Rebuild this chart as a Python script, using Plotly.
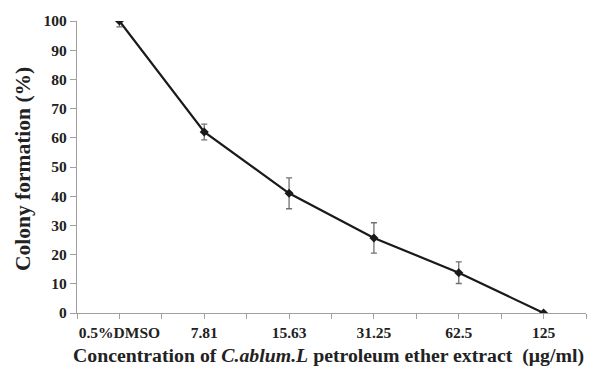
import plotly.graph_objects as go

categories = ["0.5%DMSO", "7.81", "15.63", "31.25", "62.5", "125"]
colony = [100, 62, 41, 25.7, 13.8, 0]
errors = [2, 2.7, 5.3, 5.2, 3.7, 0]
y_ticks = list(range(0, 101, 10))

font = "Liberation Serif, Times New Roman, serif"

fig = go.Figure()
fig.add_trace(go.Scatter(
    x=list(range(len(categories))), y=colony,
    mode="lines+markers",
    line=dict(color="#1a1a1a", width=2.2),
    marker=dict(symbol="diamond", size=7, color="#1a1a1a"),
    error_y=dict(type="data", array=errors, visible=True,
                 color="#707070", thickness=1.3, width=3),
    cliponaxis=True,
    showlegend=False,
))

fig.update_layout(
    width=590, height=360,
    margin=dict(l=69, r=12, t=13, b=55, autoexpand=False),
    paper_bgcolor="white", plot_bgcolor="white",
    font=dict(family=font, color="#222222"),
    xaxis=dict(
        range=[-0.5, len(categories) - 0.5],
        tickmode="array",
        tickvals=[i * 0.5 - 0.5 for i in range(2 * len(categories) + 1)],
        ticktext=["" if i % 2 == 0 else categories[i // 2] for i in range(2 * len(categories) + 1)],
        ticks="outside", ticklen=5, tickcolor="#a0a0a0", tickwidth=1,
        showline=True, linecolor="#a0a0a0", linewidth=1.2,
        showgrid=False, zeroline=False, automargin=False,
        tickfont=dict(size=15.5, family=font, color="#222222", weight="bold"),
    ),
    yaxis=dict(
        range=[0, 100],
        tickvals=y_ticks,
        ticks="outside", ticklen=6, tickcolor="#a0a0a0", tickwidth=1,
        showline=True, linecolor="#a0a0a0", linewidth=1.2,
        showgrid=False, zeroline=False, automargin=False,
        tickfont=dict(size=15.5, family=font, color="#222222", weight="bold"),
    ),
    annotations=[
        dict(text="<b>Concentration of <i>C.ablum.L</i> petroleum ether extract  (μg/ml)</b>",
             xref="paper", yref="paper", x=(328 - 77) / 509, y=(313 - 355) / 292,
             xanchor="center", yanchor="middle", showarrow=False,
             font=dict(size=19.8, family=font, color="#222222")),
        dict(text="<b>Colony formation (%)</b>",
             xref="paper", yref="paper", x=(23 - 77) / 509, y=(313 - 169) / 292,
             xanchor="center", yanchor="middle", showarrow=False, textangle=-90,
             font=dict(size=21.5, family=font, color="#222222")),
    ],
)

fig.write_html("out.html")
